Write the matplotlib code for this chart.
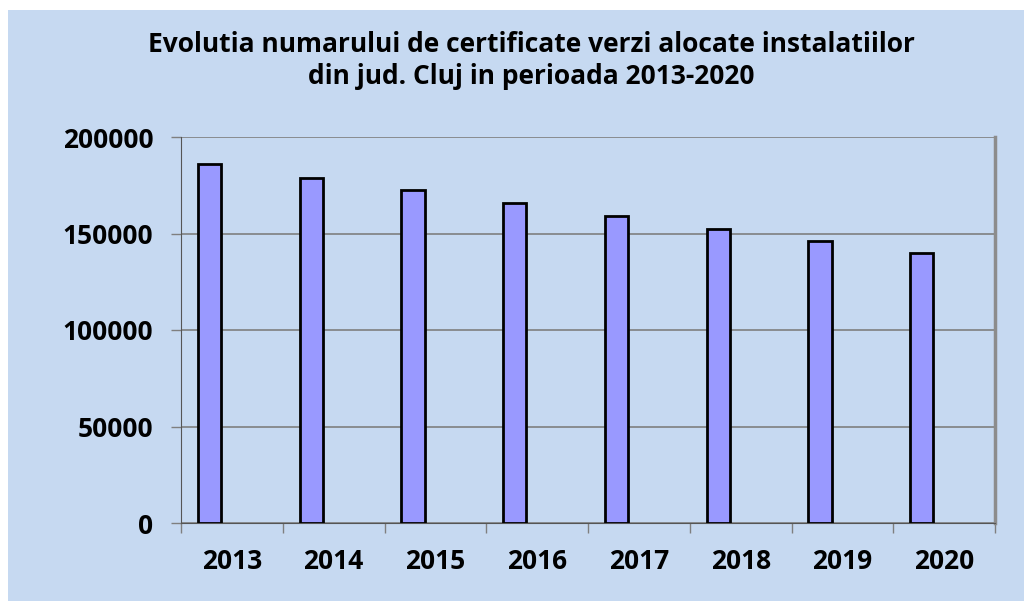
import matplotlib
matplotlib.use("Agg")
import matplotlib.pyplot as plt
import numpy as np
from matplotlib.patches import Rectangle

years = ["2013", "2014", "2015", "2016", "2017", "2018", "2019", "2020"]
values = [186000, 179000, 172300, 165800, 159000, 152300, 146100, 140000]
yticks = [0, 50000, 100000, 150000, 200000]

BG = "#C6D9F1"
plt.rcParams['font.family'] = ['Open Sans', 'DejaVu Sans']

fig = plt.figure(figsize=(10.24, 6.01), dpi=100)
fig.patch.set_facecolor("white")
fig.patches.append(Rectangle((8/1024, 0), 1 - 8/1024, 1 - 10/601, transform=fig.transFigure,
                             facecolor=BG, edgecolor="none", zorder=-10))

ax = fig.add_axes([181/1024, 1 - 523/601, (995 - 181)/1024, (523 - 137)/601])
ax.set_facecolor(BG)

x = np.arange(len(years))
ax.bar(x - 0.22, values, width=0.23, color="#9999FF", edgecolor="black", linewidth=2, zorder=3)

ax.set_ylim(0, 200000)
ax.set_xlim(-0.5, len(years) - 0.5)
ax.set_yticks(yticks)
ax.set_yticklabels([str(v) for v in yticks], fontsize=19, fontweight="bold")
ax.yaxis.grid(True, color="#7F7F7F", linewidth=1.2, zorder=0)
ax.tick_params(axis="y", length=7, width=1, color="#7F7F7F", pad=13)

ax.set_xticks(np.arange(len(years) + 1) - 0.5)
ax.set_xticklabels([])
ax.tick_params(axis="x", which="major", length=7, width=1, color="#7F7F7F")
ax.set_xticks(x, minor=True)
ax.set_xticklabels(years, minor=True, fontsize=19, fontweight="bold")
ax.tick_params(axis="x", which="minor", length=0, pad=18)

ax.spines["top"].set_visible(False)
ax.spines["right"].set_color("#8C8C8C")
ax.spines["right"].set_linewidth(2.5)
ax.spines["left"].set_color("#555555")
ax.spines["bottom"].set_color("#555555")

fig.text(531/1024, 1 - 44/601, "Evolutia numarului de certificate verzi alocate instalatiilor",
         ha="center", va="center", fontsize=19, fontweight="bold")
fig.text(531/1024, 1 - 77/601, "din jud. Cluj in perioada 2013-2020",
         ha="center", va="center", fontsize=19, fontweight="bold")

fig.savefig("out.png", dpi=100, facecolor=fig.get_facecolor())
